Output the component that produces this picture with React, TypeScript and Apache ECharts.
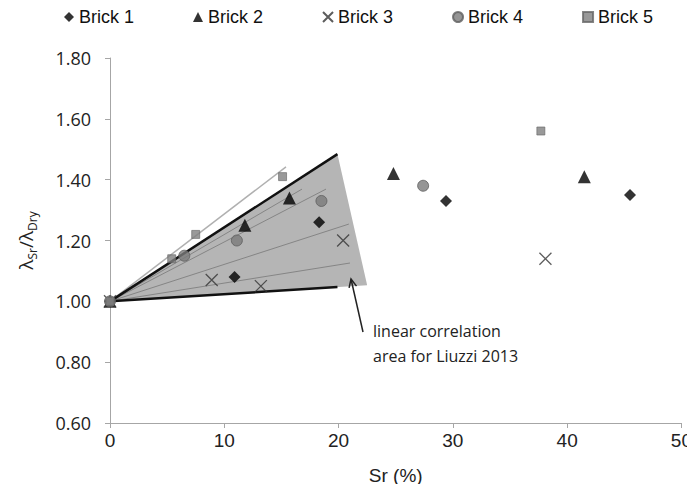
import React, { useEffect, useRef } from "react";
import * as echarts from "echarts";

// ---- data ----
const seriesNames = ["Brick 1", "Brick 2", "Brick 3", "Brick 4", "Brick 5"];
const brick1X = [0, 10.9, 18.3, 29.4, 45.5];
const brick1Y = [1.0, 1.08, 1.26, 1.33, 1.35];
const brick2X = [0, 11.8, 15.7, 24.8, 41.5];
const brick2Y = [1.0, 1.25, 1.34, 1.42, 1.41];
const brick3X = [0, 8.9, 13.2, 20.4, 38.1];
const brick3Y = [1.0, 1.07, 1.05, 1.2, 1.14];
const brick4X = [0, 6.5, 11.1, 18.5, 27.4];
const brick4Y = [1.0, 1.15, 1.2, 1.33, 1.38];
const brick5X = [0, 5.4, 7.5, 15.1, 37.7];
const brick5Y = [1.0, 1.14, 1.22, 1.41, 1.56];

// Liuzzi 2013 linear correlation area
const areaX = [0, 19.9, 22.5];
const areaY = [1.0, 1.484, 1.053];
// bounding (bold) lines, from origin
const boundEndX = [19.9, 19.9];
const boundEndY = [1.484, 1.047];
// interior fit lines, from origin
const fitEndX = [16.8, 18.9, 20.9, 21.0];
const fitEndY = [1.369, 1.369, 1.254, 1.126];
// light fit line through Brick 5
const lightEndX = [15.4];
const lightEndY = [1.442];
const originX = 0;
const originY = 1.0;

const xTicks = { min: 0, max: 50, interval: 10 };
const yTicks = { min: 0.6, max: 1.8, interval: 0.2 };

const zip = (xs: number[], ys: number[]) => xs.map((x, i) => [x, ys[i]]);

export default function App() {
  const ref = useRef<HTMLDivElement>(null);
  useEffect(() => {
    if (!ref.current) return;
    const chart = echarts.init(ref.current, undefined, { renderer: "svg" });

    const lineSeries = (ex: number, ey: number, color: string, width: number, z: number) => ({
      type: "line",
      data: [
        [originX, originY],
        [ex, ey],
      ],
      symbol: "none",
      silent: true,
      lineStyle: { color, width },
      z,
      legendHoverLink: false,
    });

    const lines: any[] = [];
    lightEndX.forEach((x, i) => lines.push(lineSeries(x, lightEndY[i], "#b0b0b0", 1.5, 2)));
    fitEndX.forEach((x, i) => lines.push(lineSeries(x, fitEndY[i], "#858585", 1, 2)));
    boundEndX.forEach((x, i) => lines.push(lineSeries(x, boundEndY[i], "#111111", 2.5, 3)));

    // arrow geometry (annotation)
    const head = [351, 279];
    const tail = [363, 332];
    const dx = tail[0] - head[0];
    const dy = tail[1] - head[1];
    const len = Math.hypot(dx, dy);
    const ux = dx / len;
    const uy = dy / len;
    const a = (25 * Math.PI) / 180;
    const hl = 9;
    const leg = (s: number) => [
      head[0] + hl * (ux * Math.cos(s * a) - uy * Math.sin(s * a)),
      head[1] + hl * (ux * Math.sin(s * a) + uy * Math.cos(s * a)),
    ];

    const scatterBase = { type: "scatter", z: 5 };

    chart.setOption({
      animation: false,
      backgroundColor: "#ffffff",
      grid: { left: 110, right: 11, top: 58, bottom: 69 },
      legend: {
        data: seriesNames,
        left: 64,
        top: 8,
        itemGap: 59,
        itemWidth: 10,
        itemHeight: 10,
        padding: 0,
        textStyle: { fontFamily: "Liberation Sans", fontSize: 18, color: "#111" },
      },
      xAxis: {
        type: "value",
        min: xTicks.min,
        max: xTicks.max,
        interval: xTicks.interval,
        splitLine: { show: false },
        axisLine: { lineStyle: { color: "#a6a6a6", width: 1 } },
        axisTick: { show: true, length: 5, lineStyle: { color: "#a6a6a6" } },
        axisLabel: { fontFamily: "Liberation Sans", fontSize: 19, color: "#222", margin: 8 },
        name: "Sr (%)",
        nameLocation: "middle",
        nameGap: 43,
        nameTextStyle: { fontFamily: "Liberation Sans", fontSize: 19, color: "#222" },
      },
      yAxis: {
        type: "value",
        min: yTicks.min,
        max: yTicks.max,
        interval: yTicks.interval,
        splitLine: { show: false },
        axisLine: { show: true, lineStyle: { color: "#a6a6a6", width: 1 } },
        axisTick: { show: true, length: 5, lineStyle: { color: "#a6a6a6" } },
        axisLabel: {
          fontFamily: "Open Sans",
          fontSize: 18,
          color: "#222",
          margin: 19,
          formatter: (v: number) => v.toFixed(2),
        },
        name: "{l|λ}{s|Sr}{l|/λ}{s|Dry}",
        nameLocation: "middle",
        nameRotate: 90,
        nameGap: 72,
        nameTextStyle: {
          rich: {
            l: { fontFamily: "Open Sans", fontSize: 19, color: "#222", lineHeight: 24 },
            s: {
              fontFamily: "Open Sans",
              fontSize: 12,
              color: "#222",
              lineHeight: 10,
              verticalAlign: "bottom",
            },
          },
        },
      },
      series: [
        {
          type: "custom",
          silent: true,
          z: 1,
          renderItem: (params: any, api: any) => {
            if (params.dataIndex !== 0) return null;
            const pts = areaX.map((x, i) => api.coord([x, areaY[i]]));
            return {
              type: "polygon",
              shape: { points: pts },
              style: { fill: "#b5b5b5", stroke: "none" },
            };
          },
          data: [[areaX[0], areaY[0]]],
        },
        ...lines,
        {
          ...scatterBase,
          name: "Brick 1",
          symbol: "diamond",
          symbolSize: 12,
          itemStyle: { color: "#000" },
          data: zip(brick1X, brick1Y),
        },
        {
          ...scatterBase,
          name: "Brick 2",
          symbol: "triangle",
          symbolSize: 13,
          itemStyle: { color: "#000" },
          data: zip(brick2X, brick2Y),
        },
        {
          ...scatterBase,
          name: "Brick 3",
          symbol: "path://M0,0L10,10M10,0L0,10",
          symbolSize: 12,
          itemStyle: { color: "rgba(0,0,0,0)", borderColor: "#333", borderWidth: 1.3 },
          data: zip(brick3X, brick3Y),
        },
        {
          ...scatterBase,
          name: "Brick 4",
          symbol: "circle",
          symbolSize: 11,
          itemStyle: { color: "#7a7a7a", borderColor: "#5e5e5e", borderWidth: 1 },
          data: zip(brick4X, brick4Y),
        },
        {
          ...scatterBase,
          name: "Brick 5",
          symbol: "rect",
          symbolSize: 8,
          itemStyle: { color: "#808080", borderColor: "#666", borderWidth: 0.8 },
          data: zip(brick5X, brick5Y),
        },
      ],
      graphic: [
        {
          type: "line",
          shape: { x1: tail[0], y1: tail[1], x2: head[0], y2: head[1] },
          style: { stroke: "#222", lineWidth: 1.5 },
          z: 10,
        },
        {
          type: "polyline",
          shape: { points: [leg(1), head, leg(-1)] },
          style: { stroke: "#222", lineWidth: 1.5, fill: "none" },
          z: 10,
        },
        {
          type: "text",
          x: 373,
          y: 318,
          style: {
            text: "linear correlation\narea for Liuzzi 2013",
            font: '16px "Open Sans"',
            fill: "#222",
            lineHeight: 25,
            textVerticalAlign: "top",
          },
          z: 10,
        },
      ],
    });
    return () => chart.dispose();
  }, []);
  return <div ref={ref} style={{ width: 695, height: 492, margin: -8 }} />;
}
